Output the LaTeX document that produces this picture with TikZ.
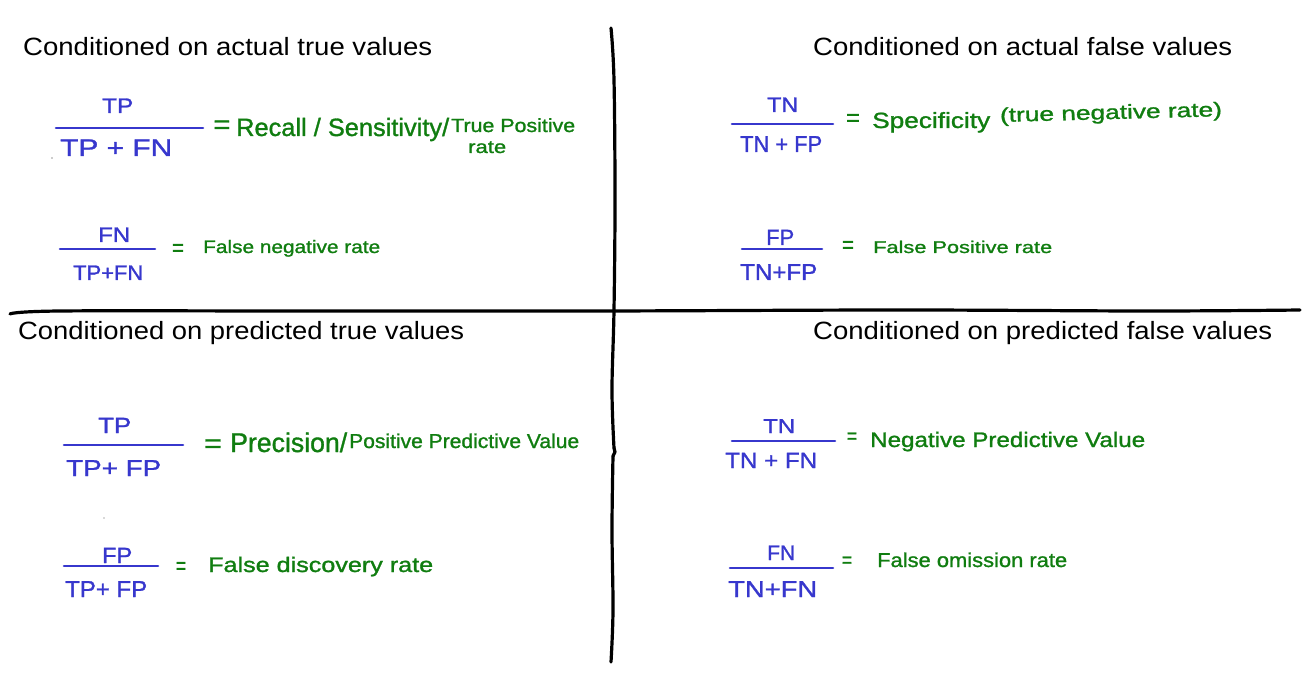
\documentclass[tikz,border=0pt]{standalone}
\usepackage{fontspec}
\setmainfont{Liberation Sans}
\newfontfamily\hand[FakeBold=1.2]{Liberation Sans}
\definecolor{hblue}{RGB}{55,55,205}
\definecolor{hgreen}{RGB}{16,125,16}
\newcommand{\fitw}[2]{\resizebox{#1}{\height}{#2}}
\newcommand{\fs}[1]{\hand\fontsize{#1}{#1}\selectfont}
\newcommand{\hs}[1]{\fontsize{#1}{#1}\selectfont}
\tikzset{
  head/.style={anchor=base west, inner sep=0pt, font=\hs{25}},
  blu/.style={anchor=base west, inner sep=0pt, text=hblue},
  grn/.style={anchor=base west, inner sep=0pt, text=hgreen},
  fbar/.style={draw=hblue, line width=2.6pt, line cap=round},
  eqs/.style={anchor=center, inner sep=0pt, text=hgreen},
  rulel/.style={line width=3.2pt, line cap=round, line join=round}
}
\begin{document}
\begin{tikzpicture}[x=1pt,y=-1pt]
\useasboundingbox (0,0) rectangle (1310,676);

% dividing lines
\draw[rulel] plot[smooth, tension=0.6] coordinates {(10,314) (60,311) (300,311) (600,311) (900,310) (1150,311) (1300,310)};
\draw[rulel] plot[smooth, tension=0.6] coordinates {(611,28) (614,80) (615,200) (614,310) (612,390) (614,448)};
\draw[rulel] (614,448) -- (615,452) -- (613,456);
\draw[rulel] plot[smooth, tension=0.6] coordinates {(613,456) (612,530) (613,610) (611,662)};

% headers
\node[head] (h1) at (23,56) {\fitw{409pt}{Conditioned on actual true values}};
\node[head] (h2) at (813,56) {\fitw{419pt}{Conditioned on actual false values}};
\node[head] (h3) at (18,340) {\fitw{446pt}{Conditioned on predicted true values}};
\node[head] (h4) at (813,340) {\fitw{459pt}{Conditioned on predicted false values}};

% ---------- Q1 upper: recall
\node[blu, font=\fs{21}] (n1a) at (102,113) {\fitw{31pt}{TP}};
\draw[fbar] (56,128) -- (203,128);
\node[blu, font=\fs{24}] (d1a) at (60,156) {\fitw{112pt}{TP + FN}};
\node[eqs, font=\fs{26}] (e1a) at (222,127) {\fitw{17pt}{=}};
\node[grn, font=\fs{25}] (t1a) at (236,136) {\fitw{213pt}{Recall / Sensitivity/}};
\node[grn, font=\fs{19}] (t1b) at (451,132) {\fitw{124pt}{True Positive}};
\node[grn, font=\fs{18}] (t1c) at (468,153) {\fitw{38pt}{rate}};

% ---------- Q1 lower: FNR
\node[blu, font=\fs{21}] (n1b) at (98,242) {\fitw{32pt}{FN}};
\draw[fbar] (60,249) -- (155,249);
\node[blu, font=\fs{21}] (d1b) at (73,280) {\fitw{70pt}{TP+FN}};
\node[eqs, font=\fs{24}] (e1b) at (178,250) {\fitw{12pt}{=}};
\node[grn, font=\fs{18}] (t1d) at (203,253) {\fitw{177pt}{False negative rate}};

% ---------- Q2 upper: specificity
\node[blu, font=\fs{21}] (n2a) at (767,112) {\fitw{31pt}{TN}};
\draw[fbar] (732,124) -- (833,124);
\node[blu, font=\fs{23}] (d2a) at (740,152) {\fitw{82pt}{TN + FP}};
\node[eqs, font=\fs{24}] (e2a) at (853,120) {\fitw{14pt}{=}};
\node[grn, font=\fs{22}] (t2a) at (872,128) {\fitw{118pt}{Specificity}};
\node[grn, font=\fs{20}, rotate=1.5] (t2b) at (1000,122) {\fitw{222pt}{(true negative rate)}};

% ---------- Q2 lower: FPR
\node[blu, font=\fs{22}] (n2b) at (766,245) {\fitw{28pt}{FP}};
\draw[fbar] (742,249) -- (822,249);
\node[blu, font=\fs{23}] (d2b) at (740,280) {\fitw{77pt}{TN+FP}};
\node[eqs, font=\fs{24}] (e2b) at (848,247) {\fitw{12pt}{=}};
\node[grn, font=\fs{17}] (t2c) at (873,253) {\fitw{179pt}{False Positive rate}};

% ---------- Q3 upper: precision
\node[blu, font=\fs{22}] (n3a) at (98,433) {\fitw{33pt}{TP}};
\draw[fbar] (64,445) -- (183,445);
\node[blu, font=\fs{23}] (d3a) at (66,476) {\fitw{95pt}{TP+ FP}};
\node[eqs, font=\fs{26}] (e3a) at (213,446) {\fitw{18pt}{=}};
\node[grn, font=\fs{27}] (t3a) at (230,452) {\fitw{117pt}{Precision/}};
\node[grn, font=\fs{20}] (t3b) at (349,448) {\fitw{230pt}{Positive Predictive Value}};

% ---------- Q3 lower: FDR
\node[blu, font=\fs{22}] (n3b) at (102,563) {\fitw{30pt}{FP}};
\draw[fbar] (64,566) -- (158,566);
\node[blu, font=\fs{23}] (d3b) at (65,597) {\fitw{82pt}{TP+ FP}};
\node[eqs, font=\fs{24}] (e3b) at (181,568) {\fitw{10pt}{=}};
\node[grn, font=\fs{21}] (t3c) at (208,572) {\fitw{225pt}{False discovery rate}};

% ---------- Q4 upper: NPV
\node[blu, font=\fs{20}] (n4a) at (763,433) {\fitw{32pt}{TN}};
\draw[fbar] (732,441) -- (835,441);
\node[blu, font=\fs{22}] (d4a) at (725,468) {\fitw{92pt}{TN + FN}};
\node[eqs, font=\fs{22}] (e4a) at (852,438) {\fitw{10pt}{=}};
\node[grn, font=\fs{21}] (t4a) at (870,447) {\fitw{275pt}{Negative Predictive Value}};

% ---------- Q4 lower: FOR
\node[blu, font=\fs{21}] (n4b) at (767,560) {\fitw{28pt}{FN}};
\draw[fbar] (730,568) -- (833,568);
\node[blu, font=\fs{23}] (d4b) at (728,597) {\fitw{89pt}{TN+FN}};
\node[eqs, font=\fs{22}] (e4b) at (847,562) {\fitw{10pt}{=}};
\node[grn, font=\fs{20}] (t4b) at (877,567) {\fitw{190pt}{False omission rate}};

% stray specks
\fill[black!40] (52,158) circle (0.8);
\fill[black!30] (104,518) circle (0.8);
\end{tikzpicture}
\end{document}
